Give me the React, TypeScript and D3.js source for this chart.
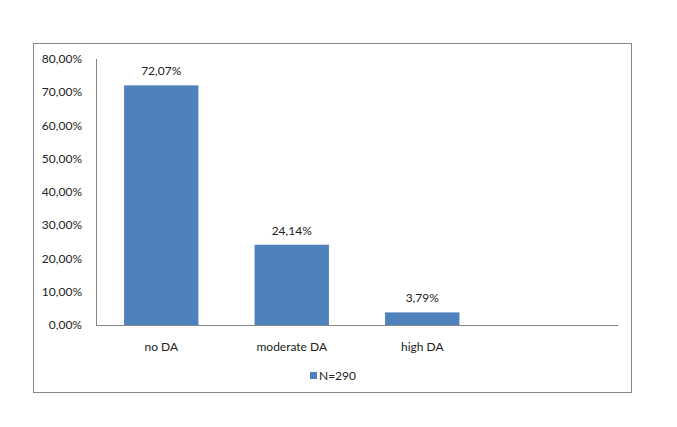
import React from "react";
import * as d3 from "d3";

const categories = ["no DA", "moderate DA", "high DA", ""];
const values = [72.07, 24.14, 3.79, null];
const yTicks = [0, 10, 20, 30, 40, 50, 60, 70, 80];
const seriesName = "N=290";

const fmt = (v: number) => v.toFixed(2).replace(".", ",") + "%";

export default function App() {
  const W = 677, H = 427;
  const left = 96, right = 618, top = 59, bottom = 325;
  const x = d3.scaleBand<string>().domain(categories.map((c, i) => String(i))).range([left, right]).paddingInner(0.43).paddingOuter(0.215);
  const y = d3.scaleLinear().domain([0, 80]).range([bottom, top]);
  const font = "Lato, 'Open Sans', sans-serif";
  const gray = "#868686";
  const textColor = "#222";
  return (
    <svg width={W} height={H} style={{ position: "absolute", left: 0, top: 0 }} fontFamily={font}>
      <rect x={0} y={0} width={W} height={H} fill="#fff" />
      <rect x={33.5} y={43.5} width={598} height={349} fill="#fff" stroke={gray} strokeWidth={1} />
      {values.map((v, i) =>
        v == null ? null : (
          <g key={i}>
            <rect x={x(String(i))!} y={y(v)} width={x.bandwidth()} height={bottom - y(v)} fill="#4F81BD" />
            <text x={x(String(i))! + x.bandwidth() / 2} y={y(v) - 10} textAnchor="middle" fontSize={12} fill={textColor}>
              {fmt(v)}
            </text>
          </g>
        )
      )}
      <line x1={left + 0.5} x2={left + 0.5} y1={top} y2={bottom} stroke={gray} />
      <line x1={left} x2={right} y1={bottom + 0.5} y2={bottom + 0.5} stroke={gray} />
      {yTicks.map((t) => (
        <text key={t} x={82} y={y(t) + 4} textAnchor="end" fontSize={12} fill={textColor}>
          {fmt(t)}
        </text>
      ))}
      {categories.map((c, i) => (
        <text key={i} x={x(String(i))! + x.bandwidth() / 2} y={351} textAnchor="middle" fontSize={12} fill={textColor}>
          {c}
        </text>
      ))}
      <rect x={310} y={372} width={7} height={7} fill="#4F81BD" />
      <text x={319} y={380} fontSize={12} fill={textColor}>{seriesName}</text>
    </svg>
  );
}
